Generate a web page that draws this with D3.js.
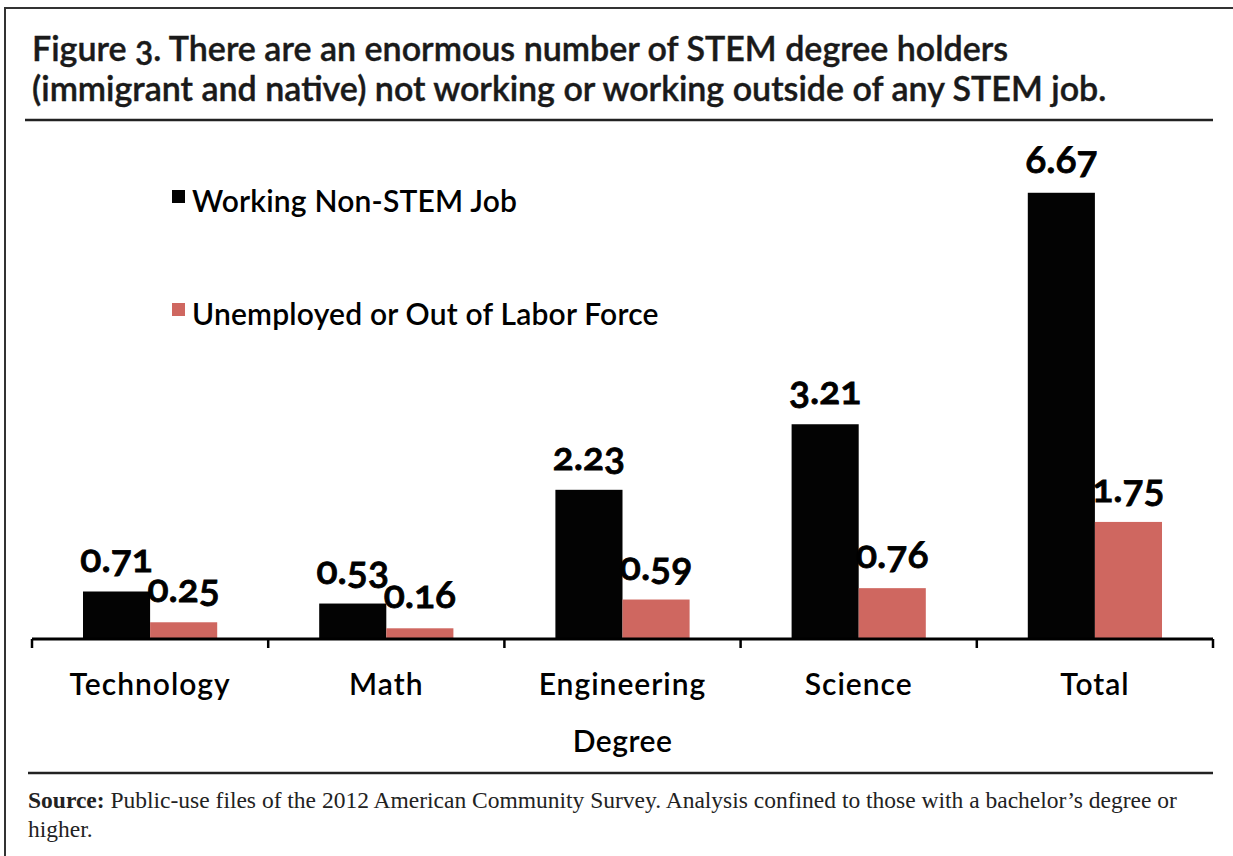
<!DOCTYPE html>
<html>
<head>
<meta charset="utf-8">
<script src="https://cdn.jsdelivr.net/npm/d3@7"></script>
<style>
  html, body { margin: 0; padding: 0; background: #fff; }
  svg { display: block; }
  .sans { font-family: Lato, "Open Sans", sans-serif; font-variant-numeric: oldstyle-nums; }
  .serif { font-family: "Liberation Serif", "DejaVu Serif", serif; }
</style>
</head>
<body>
<svg id="chart" width="1233" height="856"></svg>
<script>
// Chart data
const categories = ["Technology", "Math", "Engineering", "Science", "Total"];
const seriesNames = ["Working Non-STEM Job", "Unemployed or Out of Labor Force"];
const workingNonStem = [0.71, 0.53, 2.23, 3.21, 6.67];
const unemployedOrOut = [0.25, 0.16, 0.59, 0.76, 1.75];
const seriesColors = ["#030303", "#cf6760"];

const titleLines = [
  "Figure 3. There are an enormous number of STEM degree holders",
  "(immigrant and native) not working or working outside of any STEM job."
];
const xAxisTitle = "Degree";
const sourceLabel = "Source:";
const sourceLines = [
  " Public-use files of the 2012 American Community Survey. Analysis confined to those with a bachelor\u2019s degree or",
  "higher."
];

const seriesValues = [workingNonStem, unemployedOrOut];
const rows = categories.map((c, i) => ({
  category: c,
  values: seriesNames.map((s, j) => ({ series: s, idx: j, value: seriesValues[j][i] }))
}));

const svg = d3.select("#chart");

// Outer frame (left and top edges visible)
svg.append("rect")
  .attr("x", 5).attr("y", 8)
  .attr("width", 1240).attr("height", 870)
  .attr("fill", "none").attr("stroke", "#333").attr("stroke-width", 2);

// Title
const title = svg.append("text").attr("class", "sans")
  .attr("font-size", 34).attr("font-weight", 600).attr("fill", "#1a1a1a")
  .attr("stroke", "#1a1a1a").attr("stroke-width", 0.4);
title.selectAll("tspan").data(titleLines).join("tspan")
  .attr("x", 32).attr("y", (d, i) => 61 + i * 40)
  .text(d => d);

// Rules under the title and above the source note
svg.append("line").attr("x1", 25).attr("x2", 1213).attr("y1", 120).attr("y2", 120)
  .attr("stroke", "#222").attr("stroke-width", 2.5);
svg.append("line").attr("x1", 28).attr("x2", 1213).attr("y1", 773).attr("y2", 773)
  .attr("stroke", "#222").attr("stroke-width", 2.5);

// Scales
const plotLeft = 32, plotRight = 1213, baseY = 639;
const x0 = d3.scaleBand().domain(categories).range([plotLeft, plotRight]).padding(0);
const x1 = d3.scaleBand().domain(seriesNames).range([0, x0.bandwidth()])
  .paddingInner(0).paddingOuter(0.76);
const y = d3.scaleLinear().domain([0, 7]).range([baseY, baseY - 7 * 66.9]);
const color = d3.scaleOrdinal().domain(seriesNames).range(seriesColors);

// Bars
const groups = svg.append("g").selectAll("g").data(rows).join("g")
  .attr("transform", d => `translate(${x0(d.category)},0)`);

groups.selectAll("rect").data(d => d.values).join("rect")
  .attr("x", d => x1(d.series))
  .attr("y", d => y(d.value))
  .attr("width", x1.bandwidth())
  .attr("height", d => y(0) - y(d.value))
  .attr("fill", d => color(d.series));

// Value labels (old-style figures), centred over each bar by measured width
groups.selectAll("text.value").data(d => d.values).join("text")
  .attr("class", "value sans")
  .attr("y", d => y(d.value) - 20)
  .attr("font-size", 39).attr("font-weight", 600).attr("fill", "#000")
  .attr("stroke", "#000").attr("stroke-width", 0.9)
  .text(d => d.value.toFixed(2))
  .attr("x", function(d) {
    const w = this.getComputedTextLength();
    return x1(d.series) + x1.bandwidth() / 2 - w / 2;
  });

// X axis: baseline with downward ticks at band edges
const xAxis = d3.axisBottom(x0).tickSize(0).tickPadding(0);
const axisG = svg.append("g").attr("transform", `translate(0,${baseY})`).call(xAxis);
axisG.select(".domain").remove();
axisG.selectAll(".tick text").remove();
axisG.selectAll(".tick line").remove();

const edges = categories.map(c => x0(c)).concat([x0.range()[1]]);
axisG.append("line").attr("x1", plotLeft).attr("x2", plotRight).attr("y1", 0).attr("y2", 0)
  .attr("stroke", "#000").attr("stroke-width", 3);
axisG.selectAll("line.edge").data(edges).join("line").attr("class", "edge")
  .attr("x1", d => d).attr("x2", d => d).attr("y1", 0).attr("y2", 9)
  .attr("stroke", "#000").attr("stroke-width", 2.5);

// Category labels
axisG.selectAll("text.cat").data(categories).join("text")
  .attr("class", "cat sans")
  .attr("x", d => x0(d) + x0.bandwidth() / 2)
  .attr("y", 56)
  .attr("text-anchor", "middle")
  .attr("font-size", 30).attr("font-weight", 600).attr("fill", "#000")
  .attr("letter-spacing", 1)
  .text(d => d);

// Axis title
svg.append("text").attr("class", "sans")
  .attr("x", (plotLeft + plotRight) / 2).attr("y", 752)
  .attr("text-anchor", "middle")
  .attr("font-size", 30).attr("font-weight", 600).attr("fill", "#000")
  .attr("letter-spacing", 0.5)
  .text(xAxisTitle);

// Legend
const legend = svg.append("g").selectAll("g").data(seriesNames).join("g")
  .attr("transform", (d, i) => `translate(172,${190 + i * 113})`);
legend.append("rect").attr("x", 0).attr("y", 0).attr("width", 13).attr("height", 13)
  .attr("fill", d => color(d));
legend.append("text").attr("class", "sans")
  .attr("x", 20).attr("y", 22)
  .attr("font-size", 30).attr("font-weight", 600).attr("fill", "#000")
  .attr("letter-spacing", 0.2)
  .text(d => d);

// Source note
const src = svg.append("text").attr("class", "serif")
  .attr("font-size", 23.5).attr("fill", "#222");
const l1 = src.append("tspan").attr("x", 28).attr("y", 808);
l1.append("tspan").attr("font-weight", 700).text(sourceLabel);
l1.append("tspan").text(sourceLines[0]);
src.append("tspan").attr("x", 28).attr("y", 837).text(sourceLines[1]);
</script>
</body>
</html>
